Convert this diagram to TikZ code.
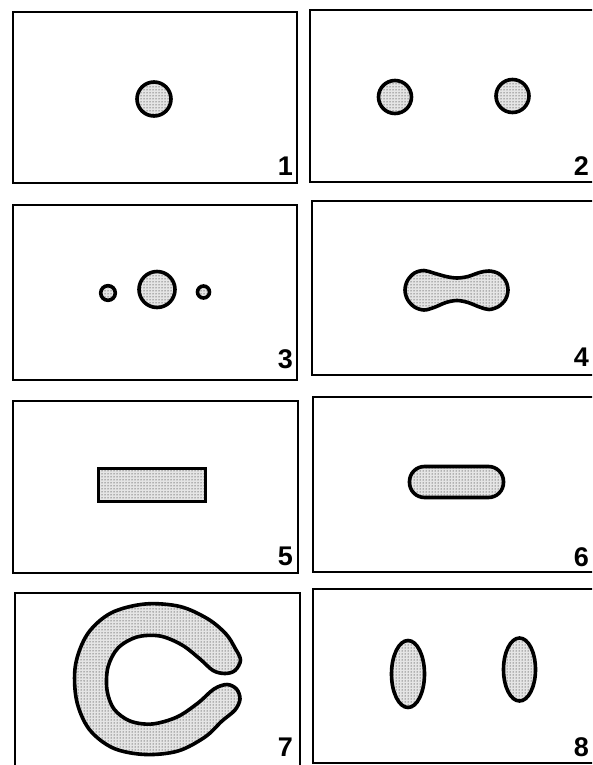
\documentclass[tikz,border=0pt]{standalone}
\usepackage{fontspec}
\setsansfont{Liberation Sans}
\usetikzlibrary{patterns}
\tikzset{
  frame/.style={draw=black, line width=2.3pt},
  blob/.style={draw=black, line width=3.6pt, preaction={fill=black!10},
    pattern=dots, pattern color=black},
  panelnum/.style={font=\sffamily\bfseries\fontsize{27}{27}\selectfont, anchor=south east, inner sep=0pt},
}

\begin{document}
\begin{tikzpicture}[x=1pt,y=-1pt]
  \clip (0,0) rectangle (592,765);
  \fill[white] (0,0) rectangle (592,765);

  % frames and panel numbers (right column runs off the page)
  \foreach \n/\xa/\ya/\xb/\yb/\nx/\ny in {
    1/13/12/297/183/293/176,
    2/310/10/600/182/589/176,
    3/13/205/297/380/293/369,
    4/312/201/600/375/589/367,
    5/13/401/298/573/293/566,
    6/313/397/600/572/589/567,
    7/15/593/300/766/293/757,
    8/313/589/600/763/589/757} {
    \draw[frame] (\xa,\ya) rectangle (\xb,\yb);
    \node[panelnum] (num\n) at (\nx,\ny) {\n};
  }

  % 1: one drop
  \draw[blob] (154,99) circle (17);

  % 2: two drops
  \draw[blob] (395,97) circle (16.5);
  \draw[blob] (512.5,96) circle (16.5);

  % 3: drop with satellites
  \draw[blob] (157,289.5) circle (18);
  \draw[blob] (108,293) circle (7.3);
  \draw[blob] (203.5,292) circle (6);

  % 4: necking
  \draw[blob] plot[smooth cycle, tension=0.55] coordinates {
    (433.5,273) (424,270.5) (414.5,273) (407.5,280.5) (405,290)
    (407.5,299.5) (414.5,307) (424,310) (434,307.5) (446,302.5)
    (457,300.5) (468,302.5) (479.5,307) (489,309.5) (498.5,306.5)
    (505.5,299.5) (508,290) (505.5,280.5) (498.5,273.5) (489,271)
    (479.5,272.5) (468,276.5) (457,278) (446,276.5)};

  % 5: slab
  \draw[blob] (98.5,468.5) rectangle (205.5,501.5);

  % 6: rounded slab
  \draw[blob, rounded corners=15pt] (409.5,466.5) rectangle (503.5,497.5);

  % 7: open ring
  \draw[blob] plot[smooth cycle, tension=0.55] coordinates {
    (235,648) (240.5,660) (235,670.5) (225,673.5) (213,670.5)
    (200,659) (182,645) (160,636) (137,637) (118,648) (108,667)
    (107,690) (114,709) (130,721) (152,724) (177,717) (198,703)
    (214,689) (227,684.5) (236.5,689) (240,699) (235,710) (222,721)
    (205,737) (178,751) (145,754.5) (113,748) (89,729) (76.5,700)
    (75.5,665) (87.5,634) (111,613) (145,604) (180,606.5) (208,619) (226,634)};

  % 8: two elongated drops
  \draw[blob] (408,674) ellipse (16.5 and 33.5);
  \draw[blob] (519.5,669.5) ellipse (16 and 31.5);
\end{tikzpicture}
\end{document}
